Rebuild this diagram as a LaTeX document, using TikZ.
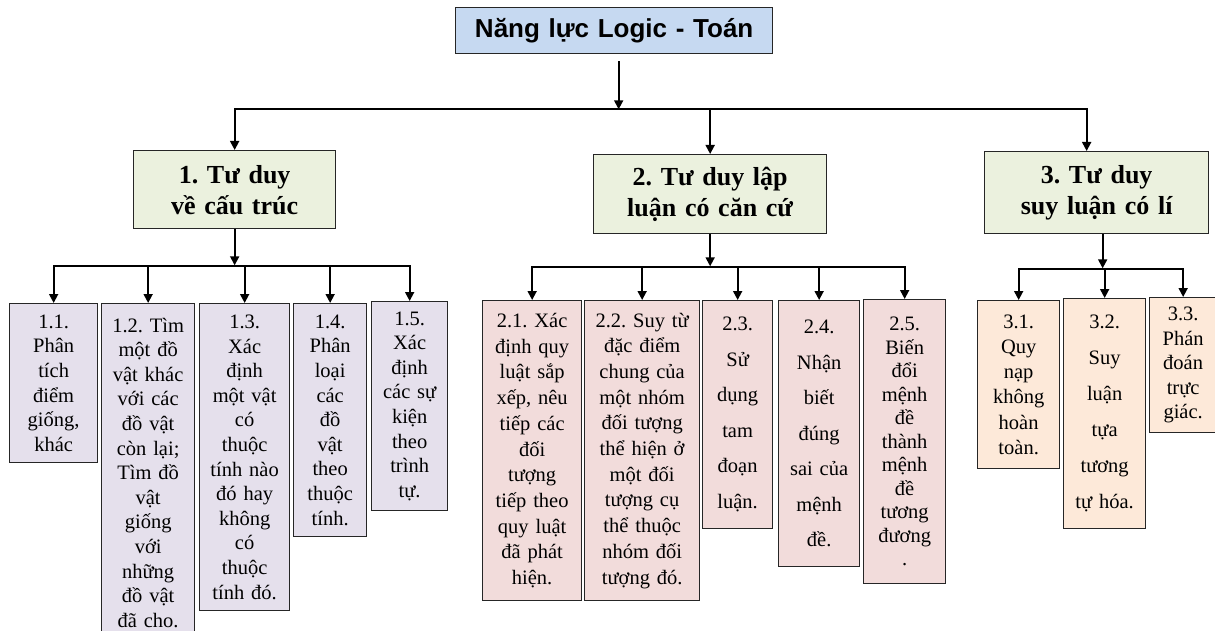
\documentclass[tikz,border=0pt]{standalone}
\usepackage{fontspec}
\setmainfont{Liberation Serif}
\newfontfamily\titlefont{Liberation Sans}
\usetikzlibrary{arrows.meta}
\definecolor{titlefill}{HTML}{C6D9F1}
\definecolor{midfill}{HTML}{EBF1DE}
\definecolor{lavfill}{HTML}{E5E0EC}
\definecolor{pinkfill}{HTML}{F2DCDB}
\definecolor{peachfill}{HTML}{FDE9D9}
\frenchspacing
\begin{document}
\begin{tikzpicture}[x=1pt,y=-1pt,
  box/.style={draw=black!85, line width=1.3pt, anchor=north west, align=center, inner xsep=2pt, inner ysep=0pt},
  titlebox/.style={box, fill=titlefill, font=\titlefont\bfseries\fontsize{26}{30}\selectfont},
  midbox/.style={box, fill=midfill, font=\bfseries\fontsize{26}{31}\selectfont},
  leafA/.style={box, fill=lavfill, font=\fontsize{20.5}{24.6}\selectfont},
  leafB/.style={box, fill=pinkfill, font=\fontsize{20.5}{25.7}\selectfont},
  leafC/.style={box, fill=peachfill, font=\fontsize{20.5}{25.3}\selectfont},
  arr/.style={line width=1.8pt, -{Triangle[length=9pt,width=9pt]}},
  busline/.style={line width=1.8pt, line cap=rect}]
\useasboundingbox (0,0) rectangle (1215,631);

% title
\node[titlebox, text width=313pt, minimum height=46pt] (title) at (455,7) {Năng lực Logic - Toán};

% level 2
\node[midbox, text width=198pt, minimum height=78pt] (b1) at (133,150) {1. Tư duy\\về cấu trúc};
\node[midbox, text width=229pt, minimum height=79pt] (b2) at (593,154) {2. Tư duy lập\\luận có căn cứ};
\node[midbox, text width=220pt, minimum height=82pt] (b3) at (984,151) {3. Tư duy\\suy luận có lí};

% group 1 leaves
\node[leafA, text width=84pt, minimum height=159pt] (l11) at (9,303) {1.1.\\Phân\\tích\\điểm\\giống,\\khác};
\node[leafA, text width=89pt, minimum height=338pt] (l12) at (101,303) {1.2. Tìm\\một đồ\\vật khác\\với các\\đồ vật\\còn lại;\\Tìm đồ\\vật\\giống\\với\\những\\đồ vật\\đã cho.};
\node[leafA, text width=86pt, minimum height=307pt] (l13) at (199,303) {1.3.\\Xác\\định\\một vật\\có\\thuộc\\tính nào\\đó hay\\không\\có\\thuộc\\tính đó.};
\node[leafA, text width=69pt, minimum height=233pt] (l14) at (293,303) {1.4.\\Phân\\loại\\các\\đồ\\vật\\theo\\thuộc\\tính.};
\node[leafA, text width=72pt, minimum height=209pt] (l15) at (371,301) {1.5.\\Xác\\định\\các sự\\kiện\\theo\\trình\\tự.};

% group 2 leaves
\node[leafB, text width=95pt, minimum height=300pt] (l21) at (482,300) {2.1. Xác\\định quy\\luật sắp\\xếp, nêu\\tiếp các\\đối\\tượng\\tiếp theo\\quy luật\\đã phát\\hiện.};
\node[leafB, text width=111pt, minimum height=300pt] (l22) at (584,300) {2.2. Suy từ\\đặc điểm\\chung của\\một nhóm\\đối tượng\\thể hiện ở\\một đối\\tượng cụ\\thể thuộc\\nhóm đối\\tượng đó.};
\node[leafB, text width=66pt, minimum height=228pt, font=\fontsize{20.5}{35.5}\selectfont] (l23) at (702,300) {2.3.\\Sử\\dụng\\tam\\đoạn\\luận.};
\node[leafB, text width=77pt, minimum height=266pt, font=\fontsize{20.5}{35.5}\selectfont] (l24) at (778,300) {2.4.\\Nhận\\biết\\đúng\\sai của\\mệnh\\đề.};
\node[leafB, text width=78pt, minimum height=284pt, font=\fontsize{20.5}{23.5}\selectfont] (l25) at (863,299) {2.5.\\Biến\\đổi\\mệnh\\đề\\thành\\mệnh\\đề\\tương\\đương\\.};

% group 3 leaves
\node[leafC, text width=78pt, minimum height=168pt] (l31) at (977,300) {3.1.\\Quy\\nạp\\không\\hoàn\\toàn.};
\node[leafC, text width=78pt, minimum height=230pt, font=\fontsize{20.5}{36}\selectfont] (l32) at (1063,298) {3.2.\\Suy\\luận\\tựa\\tương\\tự hóa.};
\node[leafC, text width=63pt, minimum height=135pt, font=\fontsize{20.5}{24.6}\selectfont] (l33) at (1149,297) {3.3.\\Phán\\đoán\\trực\\giác.};

% top connectors
\coordinate (busM) at ([xshift=4.5pt,yshift=-55pt]title.south);
\draw[arr] ([xshift=4.5pt,yshift=-7pt]title.south) -- (busM);
\draw[busline] (b1.north |- busM) -- ([xshift=-10pt]b3.north |- busM);
\draw[arr] (b1.north |- busM) -- (b1.north);
\draw[arr] (b2.north |- busM) -- (b2.north);
\draw[arr] ([xshift=-10pt]b3.north |- busM) -- ([xshift=-10pt]b3.north);

% group 1 connectors
\coordinate (g1) at ([yshift=-37pt]b1.south);
\draw[arr] (b1.south) -- ([yshift=1pt]g1);
\draw[busline] (l11.north |- g1) -- (l15.north |- g1);
\foreach \n in {l11,l12,l13,l14,l15} \draw[arr] (\n.north |- g1) -- (\n.north);

% group 2 connectors
\coordinate (g2) at ([yshift=-33pt]b2.south);
\draw[arr] (b2.south) -- ([yshift=1pt]g2);
\draw[busline] (l21.north |- g2) -- (l25.north |- g2);
\foreach \n in {l21,l22,l23,l24,l25} \draw[arr] (\n.north |- g2) -- (\n.north);

% group 3 connectors
\coordinate (g3) at ([xshift=6pt,yshift=-35pt]b3.south);
\draw[arr] ([xshift=6pt]b3.south) -- ([yshift=1pt]g3);
\draw[busline] (l31.north |- g3) -- (l33.north |- g3);
\foreach \n in {l31,l32,l33} \draw[arr] (\n.north |- g3) -- (\n.north);
\end{tikzpicture}
\end{document}
